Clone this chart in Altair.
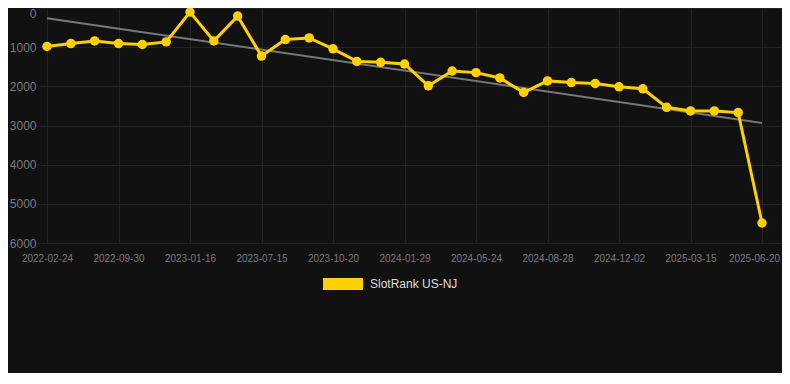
import json
import altair as alt
import pandas as pd

# ---- data ----
tick_labels = ["2022-02-24", "2022-09-30", "2023-01-16", "2023-07-15", "2023-10-20",
               "2024-01-29", "2024-05-24", "2024-08-28", "2024-12-02", "2025-03-15",
               "2025-06-20"]
ranks = [983, 907, 840, 907, 932, 865, 105, 840, 207, 1228,
         806, 764, 1043, 1363, 1388, 1430, 1987, 1608, 1650, 1785,
         2157, 1861, 1903, 1928, 2013, 2063, 2536, 2628, 2628, 2671,
         5489]
y_ticks = [0, 1000, 2000, 3000, 4000, 5000, 6000]
series_name = "SlotRank US-NJ"

df = pd.DataFrame({"i": list(range(len(ranks))), "rank": ranks, "series": series_name})

YELLOW = "#ffd000"
GRID = "#232323"
LABEL = "#7a7a7a"

label_expr = json.dumps(tick_labels) + "[round(datum.value/3)]"

x = alt.X("i:Q",
          scale=alt.Scale(domain=[-0.2937, 30.839], nice=False, zero=False),
          axis=alt.Axis(values=list(range(0, 31, 3)), labelExpr=label_expr, title=None,
                        grid=True, gridColor=GRID, domain=False, ticks=False,
                        labelColor=LABEL, labelFontSize=10, labelPadding=10,
                        labelOffset={"condition": {"test": "datum.value == 30", "value": -8},
                                     "value": 0},
                        labelFont="Liberation Sans"))
y = alt.Y("rank:Q",
          scale=alt.Scale(domain=[0, 6000], reverse=True, nice=False, zero=False),
          axis=alt.Axis(values=y_ticks, title=None, grid=True, gridColor=GRID,
                        format="d",
                        domain=False, ticks=True, tickColor=GRID, tickSize=3,
                        labelBaseline={"condition": {"test": "datum.value == 0", "value": "top"},
                                       "value": "middle"},
                        labelColor=LABEL, labelFontSize=12, labelPadding=1,
                        labelFont="Liberation Sans"))

base = alt.Chart(df)

trend = base.transform_regression("i", "rank").mark_line(
    color="#777777", strokeWidth=2).encode(x=x, y=y)

line = base.mark_line(strokeWidth=3, color=YELLOW).encode(x=x, y=y)

points = base.mark_circle(size=90, opacity=1).encode(
    x=x, y=y,
    color=alt.Color("series:N", scale=alt.Scale(range=[YELLOW]),
                    legend=alt.Legend(title=None, orient="none", legendX=283, legendY=256,
                                      symbolType="M-1,-0.3L1,-0.3L1,0.3L-1,0.3Z",
                                      symbolSize=1600, symbolStrokeWidth=0,
                                      symbolFillColor=YELLOW, symbolOpacity=1,
                                      labelColor="#dddddd", labelFontSize=12,
                                      labelFont="Liberation Sans", labelOffset=7)))

chart = alt.layer(trend, line, points).properties(
    width=742, height=235,
    autosize=alt.AutoSizeParams(type="none"),
    padding={"left": 32, "top": 0, "right": 0, "bottom": 130},
    background="#111111",
).configure_view(stroke=None)

chart.save("out.html", embed_options={"renderer": "svg", "actions": False})
